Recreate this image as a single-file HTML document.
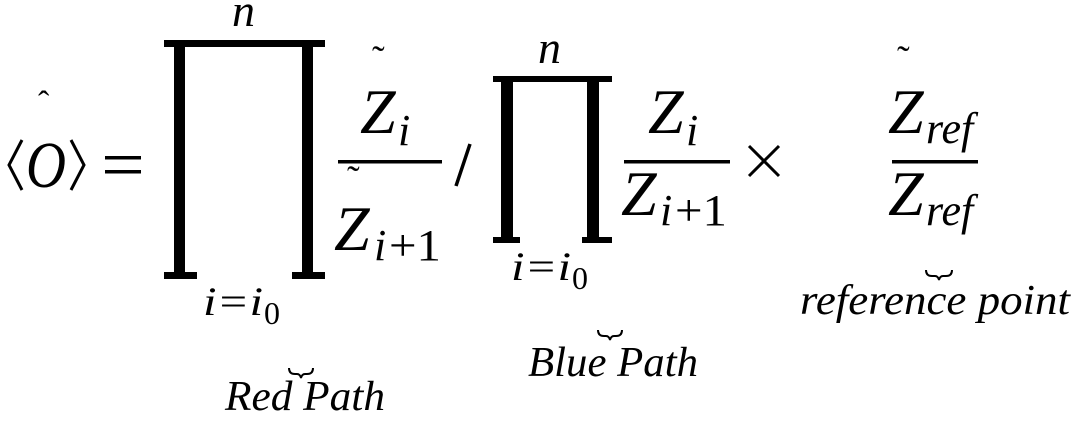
<!DOCTYPE html>
<html><head><meta charset="utf-8"><style>
html,body{margin:0;padding:0;background:#fff;width:1080px;height:422px;overflow:hidden}
svg text{font-family:"Liberation Serif",serif;fill:#000}
.it{font-style:italic}
</style></head><body>
<svg width="1080" height="422" viewBox="0 0 1080 422" xmlns="http://www.w3.org/2000/svg">
<!-- <O> -->
<text x="38" y="114" font-size="34">ˆ</text>
<polyline points="22,140 9,165 22,190" fill="none" stroke="#000" stroke-width="3"/>
<polyline points="71,140 84,165 71,190" fill="none" stroke="#000" stroke-width="3"/>
<text x="26" y="187" font-size="66" class="it" textLength="40" lengthAdjust="spacingAndGlyphs">O</text>
<rect x="105" y="156" width="36" height="3.5"/>
<rect x="105" y="170" width="36" height="3.5"/>
<!-- product 1 -->
<text x="232" y="26" font-size="46" class="it">n</text>
<rect x="164" y="40" width="161" height="7"/>
<rect x="174" y="44" width="11" height="232"/>
<rect x="302" y="44" width="11" height="232"/>
<rect x="164" y="272" width="33" height="7"/>
<rect x="292" y="272" width="33" height="7"/>
<text x="203" y="315" font-size="40" class="it" textLength="60" lengthAdjust="spacingAndGlyphs">i=i</text>
<text x="264" y="324" font-size="32">0</text>
<!-- fraction 1 -->
<text x="372" y="72" font-size="38">˜</text>
<text x="360" y="133" font-size="64" class="it">Z</text>
<text x="398" y="145" font-size="44" class="it">i</text>
<rect x="338" y="160" width="104" height="3.5"/>
<text x="347" y="192" font-size="38">˜</text>
<text x="334" y="250" font-size="64" class="it">Z</text>
<text x="374" y="260" font-size="44" class="it">i</text>
<text x="389" y="260" font-size="44" textLength="52" lengthAdjust="spacingAndGlyphs">+1</text>
<line x1="470" y1="144" x2="456" y2="186" stroke="#000" stroke-width="3.5"/>
<!-- product 2 -->
<text x="538" y="63" font-size="46" class="it">n</text>
<rect x="493" y="76" width="119" height="6"/>
<rect x="501" y="78" width="12" height="164"/>
<rect x="587" y="78" width="12" height="164"/>
<rect x="493" y="237" width="27" height="6"/>
<rect x="582" y="237" width="30" height="6"/>
<text x="511" y="280" font-size="40" class="it" textLength="60" lengthAdjust="spacingAndGlyphs">i=i</text>
<text x="572" y="289" font-size="32">0</text>
<!-- fraction 2 -->
<text x="648" y="133" font-size="64" class="it">Z</text>
<text x="686" y="145" font-size="44" class="it">i</text>
<rect x="624" y="160" width="106" height="3.5"/>
<text x="621" y="215" font-size="64" class="it">Z</text>
<text x="660" y="225" font-size="44" class="it">i</text>
<text x="675" y="225" font-size="44" textLength="52" lengthAdjust="spacingAndGlyphs">+1</text>
<line x1="749" y1="146" x2="779" y2="176" stroke="#000" stroke-width="3"/>
<line x1="779" y1="146" x2="749" y2="176" stroke="#000" stroke-width="3"/>
<!-- ref fraction -->
<text x="897" y="72" font-size="38">˜</text>
<text x="888" y="133" font-size="64" class="it">Z</text>
<text x="926" y="143" font-size="44" class="it">ref</text>
<rect x="892" y="160" width="86" height="3.5"/>
<text x="888" y="215" font-size="64" class="it">Z</text>
<text x="926" y="225" font-size="44" class="it">ref</text>
<path d="M926,270 q0,6 6,6 h3 q3,0 4,4 q1,-4 4,-4 h3 q6,0 6,-6" fill="none" stroke="#000" stroke-width="2"/>
<text x="800" y="314" font-size="42" class="it" textLength="270" lengthAdjust="spacingAndGlyphs">reference point</text>
<!-- blue path -->
<path d="M598,330 q0,6 6,6 h2 q3,0 4,4 q1,-4 4,-4 h2 q6,0 6,-6" fill="none" stroke="#000" stroke-width="2"/>
<text x="528" y="376" font-size="42" class="it" textLength="170" lengthAdjust="spacingAndGlyphs">Blue Path</text>
<!-- red path -->
<path d="M289,368 q0,6 6,6 h2 q3,0 4,4 q1,-4 4,-4 h2 q6,0 6,-6" fill="none" stroke="#000" stroke-width="2"/>
<text x="225" y="410" font-size="42" class="it" textLength="160" lengthAdjust="spacingAndGlyphs">Red Path</text>
</svg>
</body></html>
